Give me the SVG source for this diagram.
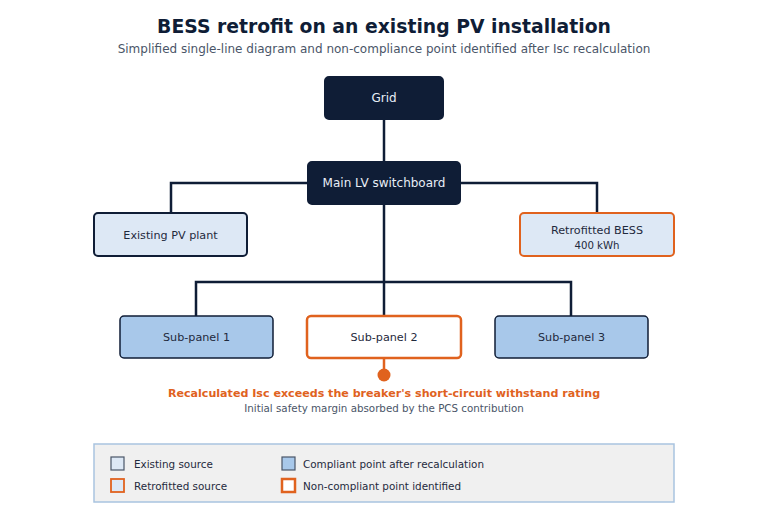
<svg xmlns="http://www.w3.org/2000/svg" width="768" height="529" viewBox="0 0 768 529">
<style>
text{font-family:"DejaVu Sans","Noto Sans",sans-serif;}
.title{font-size:18.8px;font-weight:bold;fill:#0f1d36;}
.sub{font-size:12px;fill:#4a5568;}
.lbl{font-size:12px;text-anchor:middle;}
.nl{font-size:11.2px;text-anchor:middle;fill:#1f2a3d;}
.dark{fill:#0f1d36;stroke:#0f1d36;stroke-width:2;}
.exist{fill:#dde8f5;stroke:#0f1d36;stroke-width:2;}
.retro{fill:#dde8f5;stroke:#e0621e;stroke-width:2;}
.ok{fill:#a8c8ea;stroke:#0f1d36;stroke-width:1.5;}
.bad{fill:#ffffff;stroke:#e0621e;stroke-width:2.5;}
.wire{fill:none;stroke:#0f1d36;stroke-width:2.5;}
.leg{font-size:10.4px;fill:#1f2a3d;}
</style>
<rect width="768" height="529" fill="#ffffff"/>
<text class="title" x="384" y="33" text-anchor="middle">BESS retrofit on an existing PV installation</text>
<text class="sub" x="384" y="53" text-anchor="middle">Simplified single-line diagram and non-compliance point identified after Isc recalculation</text>
<g id="connectors">
<path class="wire" d="M384 119V162"/>
<path class="wire" d="M308 183H171V213"/>
<path class="wire" d="M460 183H597V213"/>
<path class="wire" d="M384 204V316"/>
<path class="wire" d="M196 316V282H571V316"/>
<path d="M384 358V375" stroke="#e0621e" stroke-width="2.5" fill="none"/>
<circle cx="384" cy="375" r="6.5" fill="#e0621e"/>
</g>
<g id="grid"><rect class="dark" x="325" y="77" width="118" height="42" rx="4"/><text class="lbl" x="384" y="102" fill="#e8eef6">Grid</text></g>
<g id="main"><rect class="dark" x="308" y="162" width="152" height="42" rx="4"/><text class="lbl" x="384" y="187" fill="#e8eef6">Main LV switchboard</text></g>
<g id="pv"><rect class="exist" x="94" y="213" width="153" height="43" rx="4"/><text class="nl" x="170.5" y="239">Existing PV plant</text></g>
<g id="bess"><rect class="retro" x="520" y="213" width="154" height="43" rx="4"/><text class="nl" x="597" y="234">Retrofitted BESS</text><text x="597" y="249" text-anchor="middle" font-size="10.2" fill="#1f2a3d">400 kWh</text></g>
<g id="sp1"><rect class="ok" x="120" y="316" width="153" height="42" rx="4"/><text class="nl" x="196.5" y="341">Sub-panel 1</text></g>
<g id="sp2"><rect class="bad" x="307" y="316" width="154" height="42" rx="4"/><text class="nl" x="384" y="341">Sub-panel 2</text></g>
<g id="sp3"><rect class="ok" x="495" y="316" width="153" height="42" rx="4"/><text class="nl" x="571.5" y="341">Sub-panel 3</text></g>
<g id="note">
<text x="384" y="397" text-anchor="middle" font-size="11.1" font-weight="bold" fill="#e0621e">Recalculated Isc exceeds the breaker's short-circuit withstand rating</text>
<text x="384" y="412" text-anchor="middle" font-size="10.3" fill="#4a5568">Initial safety margin absorbed by the PCS contribution</text>
</g>
<g id="legend">
<rect x="94" y="444" width="580" height="58" fill="#f0f0f0" stroke="#a9c4e0" stroke-width="1.5"/>
<rect x="111" y="457" width="13" height="13" fill="#dde8f5" stroke="#4a5568" stroke-width="1.2"/>
<text class="leg" x="134" y="468">Existing source</text>
<rect x="111" y="479" width="13" height="13" fill="#dde8f5" stroke="#e0621e" stroke-width="1.8"/>
<text class="leg" x="134" y="490">Retrofitted source</text>
<rect x="282" y="457" width="13" height="13" fill="#a8c8ea" stroke="#4a5568" stroke-width="1.2"/>
<text class="leg" x="303" y="468">Compliant point after recalculation</text>
<rect x="282" y="479" width="13" height="13" fill="#ffffff" stroke="#e0621e" stroke-width="2.5"/>
<text class="leg" x="303" y="490">Non-compliant point identified</text>
</g>
</svg>
